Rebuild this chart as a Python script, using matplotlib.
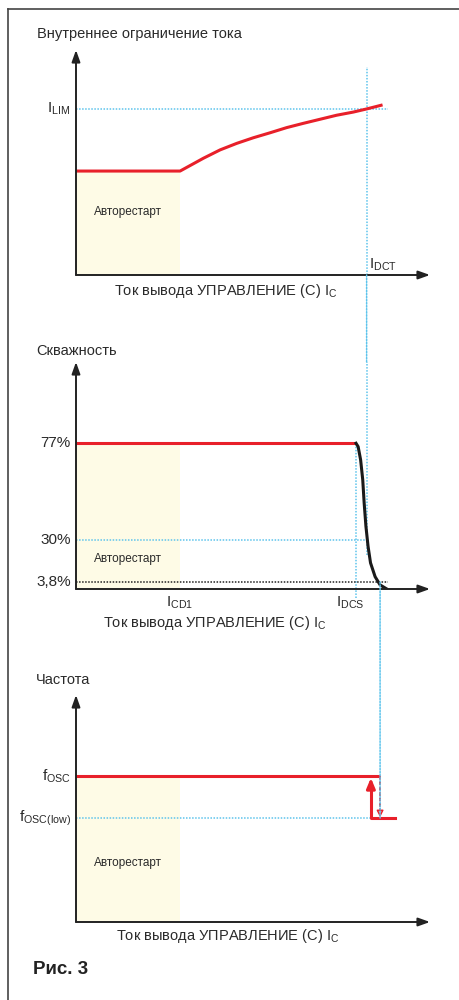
import matplotlib
matplotlib.use("Agg")
import matplotlib.pyplot as plt
from matplotlib.lines import Line2D
from matplotlib.patches import ConnectionPatch

plt.rcParams["font.family"] = ["Liberation Sans", "DejaVu Sans"]
plt.rcParams["mathtext.fontset"] = "custom"
plt.rcParams["mathtext.rm"] = "Liberation Sans"
plt.rcParams["mathtext.it"] = "Liberation Sans"

# schematic units: x = control current (0..100), y = quantity (0..100)
x_restart = 29.4  # end of auto-restart zone

# panel 1: internal current limit
ilim_x = [0, 29.4, 36.0, 40.7, 45.4, 50.1, 54.8, 59.5, 64.2, 68.9, 73.6, 78.3, 82.1, 86.6]
ilim_y = [46.2, 46.2, 51.9, 55.6, 58.5, 61.0, 63.2, 65.5, 67.4, 69.2, 71.0, 72.4, 73.8, 75.6]
ilim_level = 73.8
idct_x = 82.1

# panel 2: duty cycle
duty_max = 64.3  # 77%
duty_30 = 21.6
duty_min = 3.1  # 3.8%
duty_ticks = [duty_max, duty_30, duty_min]
duty_labels = ["77%", "30%", "3,8%"]
idcs_x = 79.1
drop_x = [79.1, 79.7, 80.4, 81.0, 81.4, 81.9, 82.5, 83.2, 84.5, 85.9, 87.8]
drop_y = [64.2, 62.7, 56.9, 48.1, 37.9, 27.6, 18.8, 11.5, 5.4, 1.8, 0.0]
switch_x = 85.9

# panel 3: frequency
fosc = 64.3
fosc_low = 45.8
step_x = 83.3
low_end_x = 90.1

RED = "#e8202a"
BLUE = "#5ec4ec"
DARK = "#222222"
TXT = "#2a2a2a"
FILL = "#fefbe6"

fig = plt.figure(figsize=(4.59, 10), dpi=100)
LEFT = 76 / 459
WIDTH = (430 - 76) / 459


def make_axes(top_px, bottom_px):
    ax = fig.add_axes([LEFT, 1 - bottom_px / 1000, WIDTH, (bottom_px - top_px) / 1000])
    ax.set_xlim(0, 100)
    ax.set_ylim(0, 100)
    ax.axis("off")
    for xy in [(100, 0), (0, 100)]:
        ax.annotate("", xy=xy, xytext=(0, 0),
                    arrowprops=dict(arrowstyle="-|>,head_length=0.7,head_width=0.25",
                                    color=DARK, lw=1.4, shrinkA=0, shrinkB=0),
                    annotation_clip=False, zorder=5)
    return ax


def restart_zone(ax, top, ytext):
    ax.fill_between([0, x_restart], 0, top, color=FILL, lw=0, zorder=0)
    ax.text(x_restart / 2, ytext, "Авторестарт", fontsize=8.5, ha="center", va="center", color=TXT)


def xlabel(ax, x, y):
    ax.text(x, y, r"Ток вывода УПРАВЛЕНИЕ (С) I$_{\mathrm{C}}$", fontsize=10.5,
            ha="center", va="center", color=TXT)


def ylabel_tick(ax, y, label):
    ax.text(-1.5, y, label, fontsize=11, ha="right", va="center", color=TXT)


dot = dict(color=BLUE, lw=1.1, ls=(0, (1, 1)))

# ---- panel 1
ax1 = make_axes(50, 275)
restart_zone(ax1, ilim_y[0], 28)
ax1.plot([0, 88], [ilim_level] * 2, zorder=1, **dot)
ax1.plot([idct_x] * 2, [0, 92.4], zorder=1, **dot)
ax1.plot(ilim_x, ilim_y, color=RED, lw=2.2, solid_capstyle="butt", zorder=3)
ax1.text(-11, 107, "Внутреннее ограничение тока", fontsize=10.5, va="center", color=TXT)
ylabel_tick(ax1, ilim_level, r"I$_{\mathrm{LIM}}$")
ax1.text(86.7, 4.4, r"I$_{\mathrm{DCT}}$", fontsize=11, ha="center", va="center", color=TXT)
xlabel(ax1, 42.4, -7.1)

# ---- panel 2
ax2 = make_axes(362, 589)
restart_zone(ax2, duty_max, 13.2)
ax2.plot([0, idct_x], [duty_30] * 2, zorder=1, **dot)
ax2.plot([idct_x] * 2, [15, 100], zorder=1, clip_on=False, **dot)
ax2.plot([idcs_x] * 2, [-4, duty_max], zorder=1, clip_on=False, **dot)
ax2.plot([0, 88.1], [duty_min] * 2, color=DARK, lw=1.1, ls=(0, (1, 1)), zorder=2)
ax2.plot([0, idcs_x], [duty_max] * 2, color=RED, lw=2.2, solid_capstyle="butt", zorder=3)
ax2.plot(drop_x, drop_y, color="#1a1a1a", lw=2.2, zorder=3)
ax2.text(-11.3, 104.8, "Скважность", fontsize=10.5, va="center", color=TXT)
for yv, lab in zip(duty_ticks, duty_labels):
    ylabel_tick(ax2, yv, lab)
ax2.text(x_restart, -6.2, r"I$_{\mathrm{CD1}}$", fontsize=11, ha="center", va="center", color=TXT)
ax2.text(77.4, -6.2, r"I$_{\mathrm{DCS}}$", fontsize=11, ha="center", va="center", color=TXT)
xlabel(ax2, 39.3, -15)

# ---- panel 3
ax3 = make_axes(695, 922)
restart_zone(ax3, fosc, 26)
ax3.plot([0, step_x], [fosc_low] * 2, zorder=1, **dot)
ax3.plot([0, switch_x], [fosc] * 2, color=RED, lw=2.2, solid_capstyle="butt", zorder=3)
ax3.plot([low_end_x, step_x, step_x], [fosc_low, fosc_low, fosc - 5], color=RED, lw=2.2, zorder=3)
ax3.annotate("", xy=(step_x, fosc - 0.8), xytext=(step_x, fosc - 6),
             arrowprops=dict(arrowstyle="-|>,head_length=0.6,head_width=0.25",
                             color=RED, lw=2.2, shrinkA=0, shrinkB=0), zorder=4)
ax3.plot([switch_x] * 2, [fosc, fosc_low + 2], color=RED, lw=1.3, ls=(0, (2, 1)), zorder=4)
ax3.annotate("", xy=(switch_x, fosc_low + 0.3), xytext=(switch_x, fosc_low + 3),
             arrowprops=dict(arrowstyle="-|>,head_length=0.4,head_width=0.2",
                             fc="#f4a0a0", ec=RED, lw=1.0, shrinkA=0, shrinkB=0), zorder=4)
ax3.text(-11.3, 106.6, "Частота", fontsize=10.5, va="center", color=TXT)
ylabel_tick(ax3, fosc, r"f$_{\mathrm{OSC}}$")
ylabel_tick(ax3, fosc_low, r"f$_{\mathrm{OSC(low)}}$")
xlabel(ax3, 42.7, -6.2)

# dotted links that run between the panels
for a, b, xa, ya, yb in [(ax1, ax2, idct_x, 0, 100), (ax2, ax3, switch_x, duty_min, fosc_low)]:
    con = ConnectionPatch(xyA=(xa, ya), coordsA=a.transData, xyB=(xa, yb), coordsB=b.transData,
                          color=BLUE, lw=1.1, ls=(0, (1, 1)), zorder=1)
    fig.add_artist(con)

# page frame and caption
fig.add_artist(Line2D([8 / 459, 1], [1 - 9 / 1000] * 2, color="#444", lw=1.2))
fig.add_artist(Line2D([8 / 459] * 2, [0, 1 - 9 / 1000], color="#444", lw=1.2))
fig.text(33 / 459, 1 - 970 / 1000, "Рис. 3", fontsize=13.5, fontweight="bold",
         family=["Liberation Sans Narrow", "Liberation Sans"], va="center", color="#222")

fig.savefig("out.png", dpi=100)
